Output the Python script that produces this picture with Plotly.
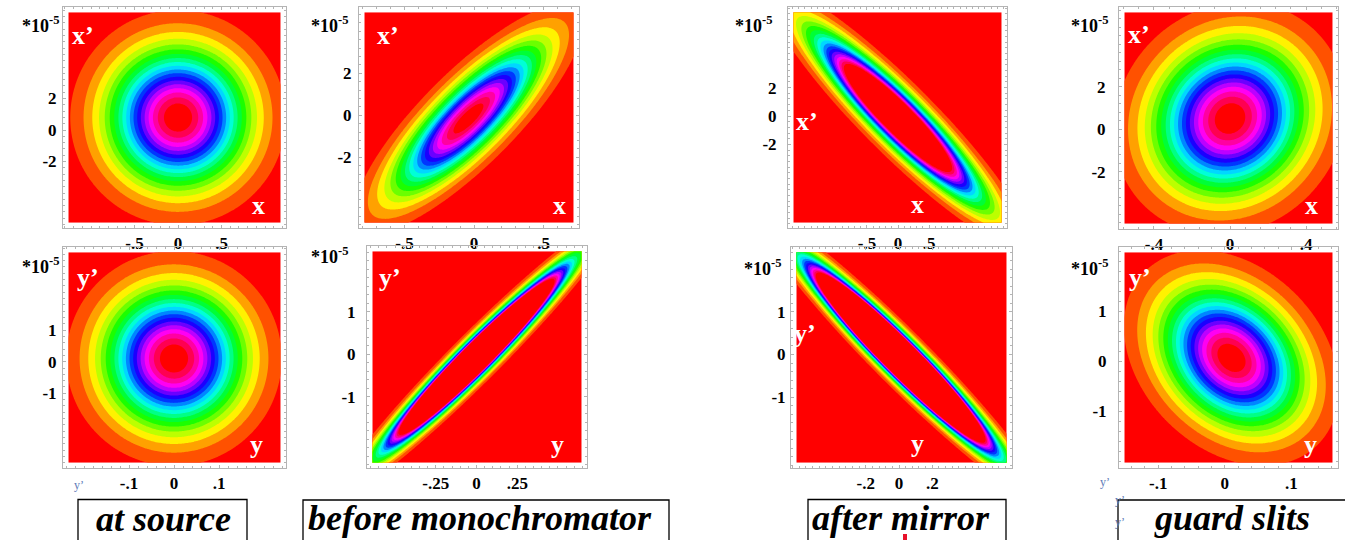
import colorsys
import numpy as np
import plotly.graph_objects as go

# ---------------- data ----------------
panel_titles = ["at source", "before monochromator", "after mirror", "guard slits"]
pos_names = ["x", "x", "x", "x", "y", "y", "y", "y"]
ang_names = ["x\u2019", "x\u2019", "x\u2019", "x\u2019", "y\u2019", "y\u2019", "y\u2019", "y\u2019"]

# phase-space Gaussians (position in mm, angle in 1e-5 rad); order:
# top row x-x' (source, before mono, after mirror, guard slits), bottom row y-y'
sig_pos = [0.506, 0.337, 0.79, 0.250, 0.0978, 0.297, 0.287, 0.066]
sig_ang = [2.79, 2.23, 3.45, 2.24, 1.39, 1.14, 1.124, 0.88]
corr = [0.0, 0.831, -0.924, 0.105, 0.0, 0.970, -0.963, -0.292]
peak = [1.0, 1.0, 1.75, 1.0, 1.0, 3.5, 4.62, 1.0]
mean_pos = [0.0, -0.04, 0.0, 0.0, 0.0, 0.0, 0.01, 0.01]
mean_ang = [0.79, -0.15, -0.14, 0.5, 0.1, -0.06, -0.075, 0.07]

pos_range = [[-1.322, 1.241], [-0.827, 0.755], [-1.774, 1.758], [-0.584, 0.568],
             [-0.2467, 0.2489], [-0.672, 0.678], [-0.649, 0.679], [-0.159, 0.170]]
ang_range = [[-6.22, 7.81], [-5.37, 5.16], [-7.89, 7.68], [-4.706, 5.755],
             [-3.368, 3.633], [-2.678, 2.553], [-2.664, 2.522], [-2.132, 2.288]]

pos_tickvals = [[-0.5, 0, 0.5], [-0.5, 0, 0.5], [-0.5, 0, 0.5], [-0.4, 0, 0.4],
                [-0.1, 0, 0.1], [-0.25, 0, 0.25], [-0.2, 0, 0.2], [-0.1, 0, 0.1]]
pos_ticktext = [["-.5", "0", ".5"], ["-.5", "0", ".5"], ["-.5", "0", ".5"], ["-.4", "0", ".4"],
                ["-.1", "0", ".1"], ["-.25", "0", ".25"], ["-.2", "0", ".2"], ["-.1", "0", ".1"]]
ang_tickvals = [[-2, 0, 2]] * 4 + [[-1, 0, 1]] * 4
ang_ticktext = [["-2", "0", "2"]] * 4 + [["-1", "0", "1"]] * 4

level_start, level_end, level_step = 0.05, 0.95, 0.05
n_regions = 20

# ---------------- layout geometry (pixels in a 1345x540 page) ----------------
W, H = 1345, 540
frames = [(63, 286, 7, 228), (359, 579, 7, 228), (788, 1007, 7, 228), (1119, 1338, 7, 229),
          (63, 286, 247, 468), (367, 587, 246, 468), (791, 1012, 247, 468), (1119, 1338, 247, 468)]
ylab_standoff = [2, 3, 7, 9, 2, 7, 1, 8]
exp_label_pos = [(62, 25), (351, 25), (775, 25), (1111, 25),
                 (62, 265), (351, 255), (784, 268), (1111, 267)]
ang_label_pos = [(83, 36), (388, 36), (807, 121), (1139, 35),
                 (88, 277), (390, 277), (805, 333), (1140, 277)]
pos_label_pos = [(258, 205), (559, 205), (917, 204), (1311, 205),
                 (256, 444), (557, 444), (917, 443), (1310, 444)]
title_boxes = [(78, 247, 499.5), (303, 669, 500), (808, 1006, 499.5), (1118, 1360, 500)]
title_centers = [(163, 519), (480, 518), (901, 518), (1232, 518)]


def px(x, y):
    return x / W, 1 - y / H


# Hue colour function (red -> ... -> magenta -> red)
colorscale = []
for j in range(n_regions):
    r, g, b = colorsys.hsv_to_rgb(j / (n_regions - 1), 1, 1)
    colorscale.append([j / (n_regions - 1), f"rgb({round(r*255)},{round(g*255)},{round(b*255)})"])

fig = go.Figure()
layout = dict(width=W, height=H, margin=dict(l=0, r=0, t=0, b=0),
              paper_bgcolor="white", plot_bgcolor="white", showlegend=False)

tickfont = dict(family="Liberation Serif", size=17, color="black", weight="bold")
expfont = dict(family="Liberation Serif", size=18, color="black", weight="bold")
frame_col = "#b4b4b4"
annotations = []
shapes = []

for i in range(8):
    ax = "" if i == 0 else str(i + 1)
    x0, x1, y0, y1 = frames[i]
    xr, yr = pos_range[i], ang_range[i]
    inset_x = (xr[1] - xr[0]) * 5.3 / (x1 - x0)
    inset_y = (yr[1] - yr[0]) * 5.3 / (y1 - y0)
    xs = np.linspace(xr[0] + inset_x, xr[1] - inset_x, 170)
    ys = np.linspace(yr[0] + inset_y, yr[1] - inset_y, 170)
    X, Y = np.meshgrid(xs, ys)
    dx = (X - mean_pos[i]) / sig_pos[i]
    dy = (Y - mean_ang[i]) / sig_ang[i]
    rho = corr[i]
    Q = (dx**2 - 2 * rho * dx * dy + dy**2) / (1 - rho**2)
    Z = peak[i] * np.exp(-0.5 * Q)

    fig.add_trace(go.Contour(
        x=xs, y=ys, z=Z, xaxis="x" + ax, yaxis="y" + ax,
        autocontour=False,
        contours=dict(start=level_start, end=level_end, size=level_step,
                      coloring="fill", showlines=False),
        line=dict(width=0), colorscale=colorscale, showscale=False,
        hoverinfo="skip"))

    xstep = pos_tickvals[i][2] - pos_tickvals[i][1]
    ystep = ang_tickvals[i][2] - ang_tickvals[i][1]
    layout["xaxis" + ax] = dict(
        domain=[x0 / W, x1 / W], anchor="y" + ax, range=xr, fixedrange=True,
        showgrid=False, zeroline=False, showline=True, linecolor=frame_col, linewidth=1,
        mirror="allticks", ticks="inside", ticklen=3, tickcolor=frame_col,
        tickvals=pos_tickvals[i], ticktext=pos_ticktext[i], tickfont=tickfont,
        ticklabelstandoff=0,
        minor=dict(ticks="inside", ticklen=2, tickcolor=frame_col, dtick=xstep / 5,
                   tick0=0, showgrid=False))
    layout["yaxis" + ax] = dict(
        domain=[1 - y1 / H, 1 - y0 / H], anchor="x" + ax, range=yr, fixedrange=True,
        showgrid=False, zeroline=False, showline=True, linecolor=frame_col, linewidth=1,
        mirror="allticks", ticks="inside", ticklen=3, tickcolor=frame_col,
        tickvals=ang_tickvals[i], ticktext=ang_ticktext[i], tickfont=tickfont,
        ticklabelstandoff=ylab_standoff[i],
        minor=dict(ticks="inside", ticklen=2, tickcolor=frame_col, dtick=ystep / 5,
                   tick0=0, showgrid=False))

    # *10^-5 scale label
    ex, ey = px(*exp_label_pos[i])
    annotations.append(dict(x=ex, y=ey, xref="paper", yref="paper", showarrow=False,
                            xanchor="right", yanchor="middle",
                            text="*10<sup>-5</sup>", font=expfont))
    # axis names inside the panels
    for (lx, ly), txt in ((ang_label_pos[i], ang_names[i]), (pos_label_pos[i], pos_names[i])):
        axp, ayp = px(lx, ly)
        annotations.append(dict(x=axp, y=ayp, xref="paper", yref="paper", showarrow=False,
                                xanchor="center", yanchor="middle", text=txt,
                                font=dict(family="Liberation Serif", size=26, color="white",
                                          weight="bold")))

# titles in boxes
for k in range(4):
    bx0, bx1, by0 = title_boxes[k]
    shapes.append(dict(type="rect", xref="paper", yref="paper",
                       x0=bx0 / W, x1=bx1 / W, y0=-0.1, y1=1 - by0 / H,
                       line=dict(color="black", width=1.3), fillcolor="rgba(0,0,0,0)"))
    tx, ty = px(*title_centers[k])
    annotations.append(dict(x=tx, y=ty, xref="paper", yref="paper", showarrow=False,
                            xanchor="center", yanchor="middle", text=panel_titles[k],
                            font=dict(family="Liberation Serif", size=36, color="black",
                                      style="italic", weight="bold")))

# small stray glyphs of the original page
for (sx, sy) in [(72, 494), (1112, 491), (1127, 509), (1127, 531)]:
    gx, gy = px(sx, sy)
    annotations.append(dict(x=gx, y=gy, xref="paper", yref="paper", showarrow=False,
                            text="y\u2019", font=dict(family="Liberation Serif", size=12,
                                                      color="#5d7bb8")))
shapes.append(dict(type="rect", xref="paper", yref="paper", x0=903 / W, x1=907 / W,
                   y0=-0.01, y1=1 - 534 / H, line=dict(width=0), fillcolor="#e8102a"))

layout["annotations"] = annotations
layout["shapes"] = shapes
fig.update_layout(**layout)
fig.write_html(
    "out.html",
    config={"displayModeBar": False},
    post_script="document.body.style.margin='0px';"
                "document.documentElement.style.overflow='hidden';")
